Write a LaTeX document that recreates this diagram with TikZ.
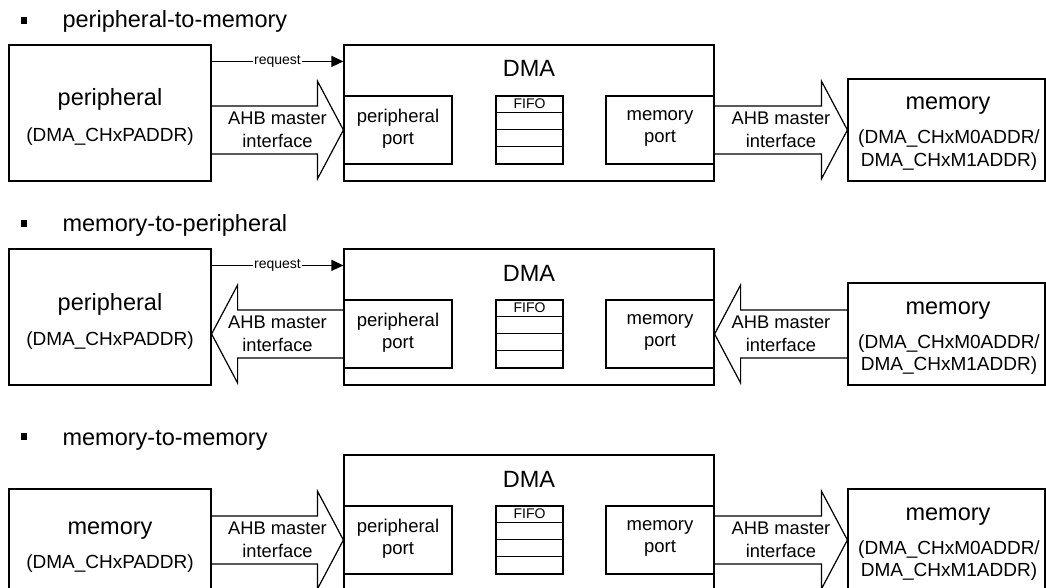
\documentclass[tikz,border=0pt]{standalone}
\usepackage{fontspec}
\setmainfont{Liberation Sans}
\usetikzlibrary{arrows.meta,calc}

\tikzset{
  box/.style={draw,rectangle,inner sep=0pt},
  portbox/.style={box,minimum width=108,minimum height=68,align=center,
    font=\fontsize{18.5}{22.3}\selectfont,execute at begin node=\strut},
  titletext/.style={anchor=base,inner sep=0pt,font=\fontsize{23.5}{27}\selectfont},
  subtext/.style={anchor=base,inner sep=0pt,font=\fontsize{19}{22}\selectfont},
  reqtext/.style={inner sep=1.5pt,font=\fontsize{14}{16}\selectfont},
  ahbtext/.style={align=center,inner sep=0pt,font=\fontsize{18.3}{23.4}\selectfont},
  reqline/.style={-{Triangle[length=12pt,width=11pt]}},
}

% wide AHB arrow: tail, tip, name
\newcommand{\ahbarrow}[3]{%
  \coordinate (#3h) at ($(#2)!26pt!(#1)$);
  \draw ($(#1)+(0,-24)$) -- ($(#3h)+(0,-24)$) -- ($(#3h)+(0,-49)$) -- (#2)
    -- ($(#3h)+(0,49)$) -- ($(#3h)+(0,24)$) -- ($(#1)+(0,24)$);
  \node[ahbtext] (#3) at ($(#1)!0.5!(#2)$) {AHB master\\interface};
}

\begin{document}
\begin{tikzpicture}[x=1pt,y=-1pt,line width=1.2pt]
\useasboundingbox (0,0) rectangle (1046,588);
\clip (0,0) rectangle (1046,588);

% the DMA block, same in all three rows
\foreach \r/\dy in {1/0,2/204,3/410}{
  \node[box,minimum width=370,minimum height=136] (dma\r) at (529,113+\dy) {};
  \node[titletext] (dmat\r) at (529,77+\dy) {DMA};
  \node[portbox] (pp\r) at (398,130+\dy) {peripheral\\port};
  \node[portbox] (mp\r) at (660,130+\dy) {memory\\port};
  \node[box,minimum width=67,minimum height=68] (fifo\r) at (529.5,130+\dy) {};
  \node[reqtext] (fifot\r) at ($(fifo\r.north)+(0,8.5)$) {FIFO};
  \foreach \k in {1,2,3}
    \draw ($(fifo\r.north west)+(0,17*\k)$) -- ($(fifo\r.north east)+(0,17*\k)$);
}

% peripheral-to-memory
\node[fill,minimum size=6.5,inner sep=0pt] (b1) at (24,20.5) {};
\node[titletext,anchor=base west] (h1) at (62,27.3) {peripheral-to-memory};
\node[box,minimum width=202,minimum height=136] (per1) at (110,113) {};
\node[titletext] (per1a) at (110,106) {peripheral};
\node[subtext] (per1b) at (110,141.7) {(DMA\_CHxPADDR)};
\node[box,minimum width=197,minimum height=102] (mem1) at (946.5,130) {};
\node[titletext] (mem1a) at (948,110) {memory};
\node[subtext] (mem1b) at (949,144) {(DMA\_CHxM0ADDR/};
\node[subtext] (mem1c) at (949,166.7) {DMA\_CHxM1ADDR)};
\coordinate (rq1) at ($(per1.north east)+(0,17)$);
\draw[reqline] (rq1) -- (rq1 -| dma1.west)
  node[midway,reqtext,fill=white] (rqt1) {request};
\coordinate (t1a) at (per1.east |- pp1.west);
\ahbarrow{t1a}{pp1.west}{ahb1a}
\ahbarrow{mp1.east}{mem1.west}{ahb1b}

% memory-to-peripheral
\node[fill,minimum size=6.5,inner sep=0pt] (b2) at (24,223.5) {};
\node[titletext,anchor=base west] (h2) at (62,231.7) {memory-to-peripheral};
\node[box,minimum width=202,minimum height=136] (per2) at (110,317) {};
\node[titletext] (per2a) at (110,310) {peripheral};
\node[subtext] (per2b) at (110,345.7) {(DMA\_CHxPADDR)};
\node[box,minimum width=197,minimum height=102] (mem2) at (946.5,334) {};
\node[titletext] (mem2a) at (948,314) {memory};
\node[subtext] (mem2b) at (949,348) {(DMA\_CHxM0ADDR/};
\node[subtext] (mem2c) at (949,370.7) {DMA\_CHxM1ADDR)};
\coordinate (rq2) at ($(per2.north east)+(0,17)$);
\draw[reqline] (rq2) -- (rq2 -| dma2.west)
  node[midway,reqtext,fill=white] (rqt2) {request};
\coordinate (t2a) at (per2.east |- pp2.west);
\ahbarrow{pp2.west}{t2a}{ahb2a}
\ahbarrow{mem2.west}{mp2.east}{ahb2b}

% memory-to-memory
\node[fill,minimum size=6.5,inner sep=0pt] (b3) at (24,436.5) {};
\node[titletext,anchor=base west] (h3) at (62,445) {memory-to-memory};
\node[box,minimum width=202,minimum height=102] (src3) at (110,540) {};
\node[titletext] (src3a) at (110,534.3) {memory};
\node[subtext] (src3b) at (110,568.3) {(DMA\_CHxPADDR)};
\node[box,minimum width=197,minimum height=102] (mem3) at (946.5,540) {};
\node[titletext] (mem3a) at (948,520) {memory};
\node[subtext] (mem3b) at (949,554) {(DMA\_CHxM0ADDR/};
\node[subtext] (mem3c) at (949,576.7) {DMA\_CHxM1ADDR)};
\ahbarrow{src3.east}{pp3.west}{ahb3a}
\ahbarrow{mp3.east}{mem3.west}{ahb3b}
\end{tikzpicture}
\end{document}
